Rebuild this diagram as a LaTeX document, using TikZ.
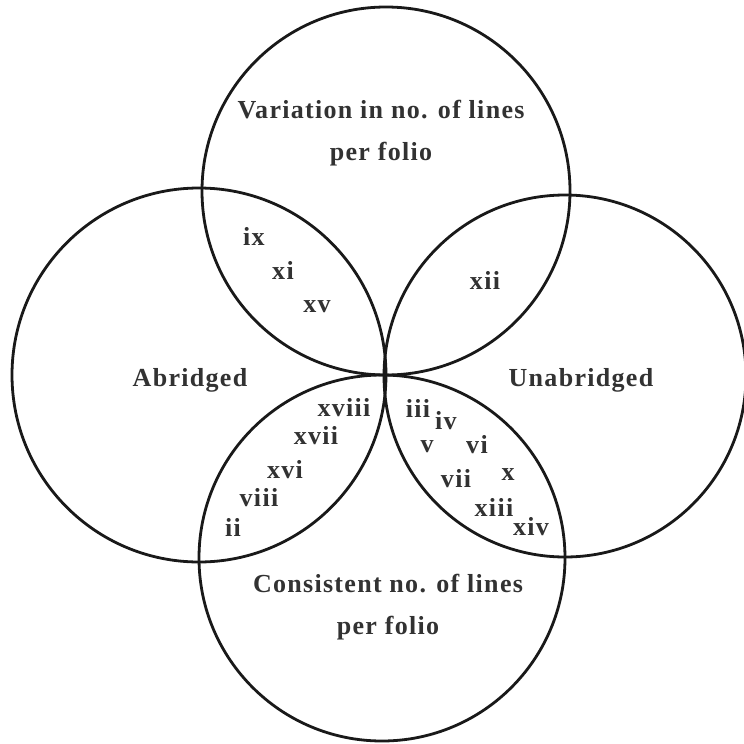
\documentclass[tikz,border=0pt]{standalone}
\usepackage{fontspec}
\setmainfont{Liberation Serif}[LetterSpace=5]
\usepackage{tikz}
\usetikzlibrary{positioning}
\definecolor{ink}{RGB}{25,25,25}
\definecolor{label}{RGB}{50,50,50}

\tikzset{
  vennset/.style={circle, draw=ink, line width=2.8pt, inner sep=0pt, minimum size=#1},
  setname/.style={text=label, align=center, font=\fontsize{26}{42}\selectfont\bfseries},
  msitem/.style={text=label, inner sep=1pt, font=\fontsize{26}{28}\selectfont\bfseries}
}

\begin{document}
\begin{tikzpicture}[x=1pt, y=-1pt]
  \useasboundingbox (0,0) rectangle (744,744);
  \fill[white] (0,0) rectangle (744,744);

  % the four sets
  \node[vennset=368pt] (variation) at (386,191) {};
  \node[vennset=374pt] (abridged) at (199,375) {};
  \node[vennset=362pt] (unabridged) at (565,376) {};
  \node[vennset=366pt] (consistent) at (382,558) {};

  % set names
  \node[setname] (variationname) at (381,133) {Variation in no. of lines\\per folio};
  \node[setname] (abridgedname) at (190,380) {Abridged};
  \node[setname] (unabridgedname) at (581,380) {Unabridged};
  \node[setname] (consistentname) at (388,607) {Consistent no. of lines\\per folio};

  % variation and abridged
  \node[msitem] (ix) at (254,236) {ix};
  \node[msitem] (xi) at (283,270) {xi};
  \node[msitem] (xv) at (317,307) {xv};
  % variation and unabridged
  \node[msitem] (xii) at (485,280) {xii};
  % abridged and consistent
  \node[msitem] (xviii) at (344,408) {xviii};
  \node[msitem] (xvii) at (316,436) {xvii};
  \node[msitem] (xvi) at (285,470) {xvi};
  \node[msitem] (viii) at (259,498) {viii};
  \node[msitem] (ii) at (233,527) {ii};
  % unabridged and consistent
  \node[msitem] (iii) at (418,408) {iii};
  \node[msitem] (iv) at (446,421) {iv};
  \node[msitem] (v) at (427,447) {v};
  \node[msitem] (vi) at (477,445) {vi};
  \node[msitem] (vii) at (456,479) {vii};
  \node[msitem] (x) at (508,475) {x};
  \node[msitem] (xiii) at (494,507) {xiii};
  \node[msitem] (xiv) at (531,527) {xiv};
\end{tikzpicture}
\end{document}
